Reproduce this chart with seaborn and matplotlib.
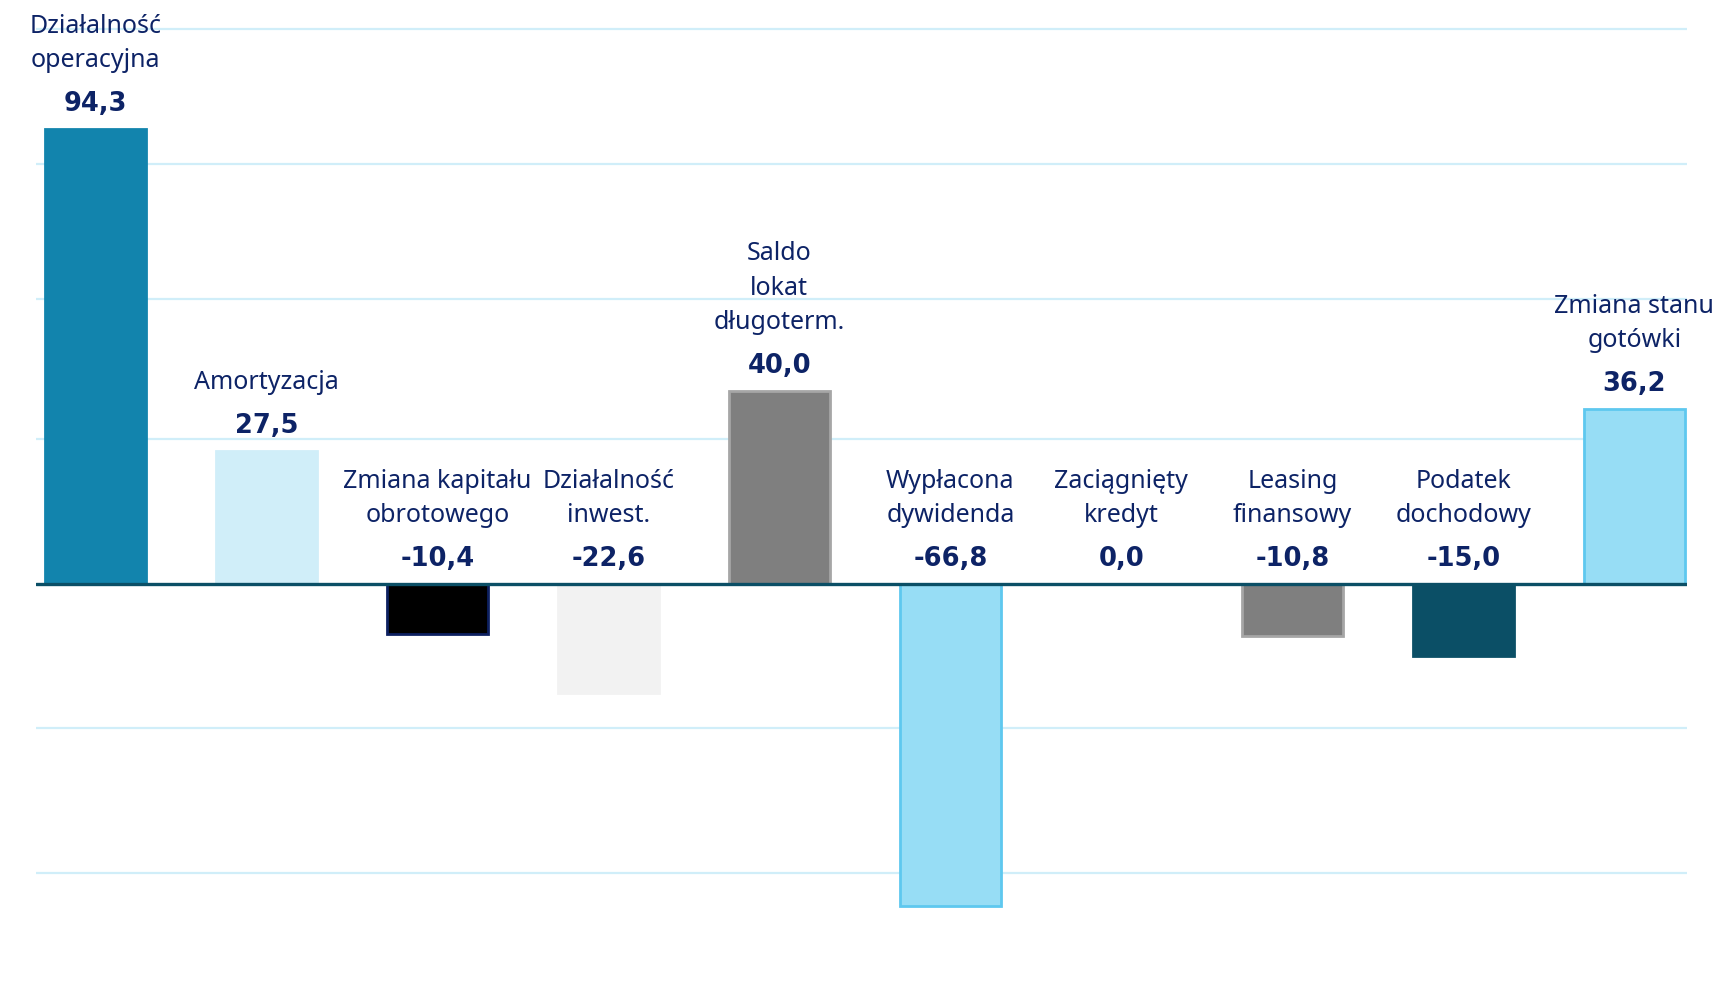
import matplotlib
matplotlib.use("Agg")
import matplotlib.pyplot as plt
import seaborn as sns
import pandas as pd

categories = ["Działalność operacyjna", "Amortyzacja", "Zmiana kapitału obrotowego",
              "Działalność inwest.", "Saldo lokat długoterm.", "Wypłacona dywidenda",
              "Zaciągnięty kredyt", "Leasing finansowy", "Podatek dochodowy",
              "Zmiana stanu gotówki"]
label_lines = ["Działalność\noperacyjna", "Amortyzacja", "Zmiana kapitału\nobrotowego",
               "Działalność\ninwest.", "Saldo\nlokat\ndługoterm.", "Wypłacona\ndywidenda",
               "Zaciągnięty\nkredyt", "Leasing\nfinansowy", "Podatek\ndochodowy",
               "Zmiana stanu\ngotówki"]
values = [94.3, 27.5, -10.4, -22.6, 40.0, -66.8, 0.0, -10.8, -15.0, 36.2]
fill_colors = ["#1284ad", "#d0eef9", "#000000", "#f2f2f2", "#7f7f7f",
               "#97ddf5", "#ffffff", "#7f7f7f", "#0b4f66", "#97ddf5"]
edge_colors = ["#1284ad", "#d0eef9", "#0d2060", "#f2f2f2", "#a6a6a6",
               "#5ec8ef", "#ffffff", "#a6a6a6", "#0b4f66", "#5ec8ef"]
grid_values = [-60, -30, 30, 59, 87, 115]

TEXT = "#0d2366"

sns.set_theme(style="white")
plt.rcParams["font.family"] = ["Noto Sans", "DejaVu Sans"]

df = pd.DataFrame({"cat": categories, "val": values})

fig = plt.figure(figsize=(17.15, 10.08), dpi=100)
ax = fig.add_axes([36 / 1715, 0.0, (1687 - 36) / 1715, 1.0])

for g in grid_values:
    ax.axhline(g, color="#d0eef9", lw=1.6, zorder=0)

sns.barplot(data=df, x="cat", y="val", hue="cat", palette=fill_colors,
            legend=False, width=0.589, ax=ax, zorder=2, saturation=1)

for p, ec in zip(ax.patches, edge_colors):
    p.set_edgecolor(ec)
    p.set_linewidth(2)
    p.set_clip_on(False)

ax.axhline(0, color="#0b4f66", lw=2.4, zorder=3)

ax.set_xlim(-0.347, 9.308)
ax.set_ylim(-88, 121)
ax.set_xlabel("")
ax.set_ylabel("")
ax.set_xticks([])
ax.set_yticks([])
for s in ax.spines.values():
    s.set_visible(False)

for i, (v, lab) in enumerate(zip(values, label_lines)):
    top = max(v, 0)
    ax.annotate(f"{v:.1f}".replace(".", ","), (i, top), xytext=(0, 18),
                textcoords="offset points", ha="center", va="center",
                fontsize=18.5, fontweight="bold", color=TEXT,
                family=["DejaVu Sans"], annotation_clip=False)
    ax.annotate(lab, (i, top), xytext=(0, 40), textcoords="offset points",
                ha="center", va="bottom", fontsize=18, color=TEXT,
                linespacing=1.5, annotation_clip=False)

fig.savefig("out.png", dpi=100)
